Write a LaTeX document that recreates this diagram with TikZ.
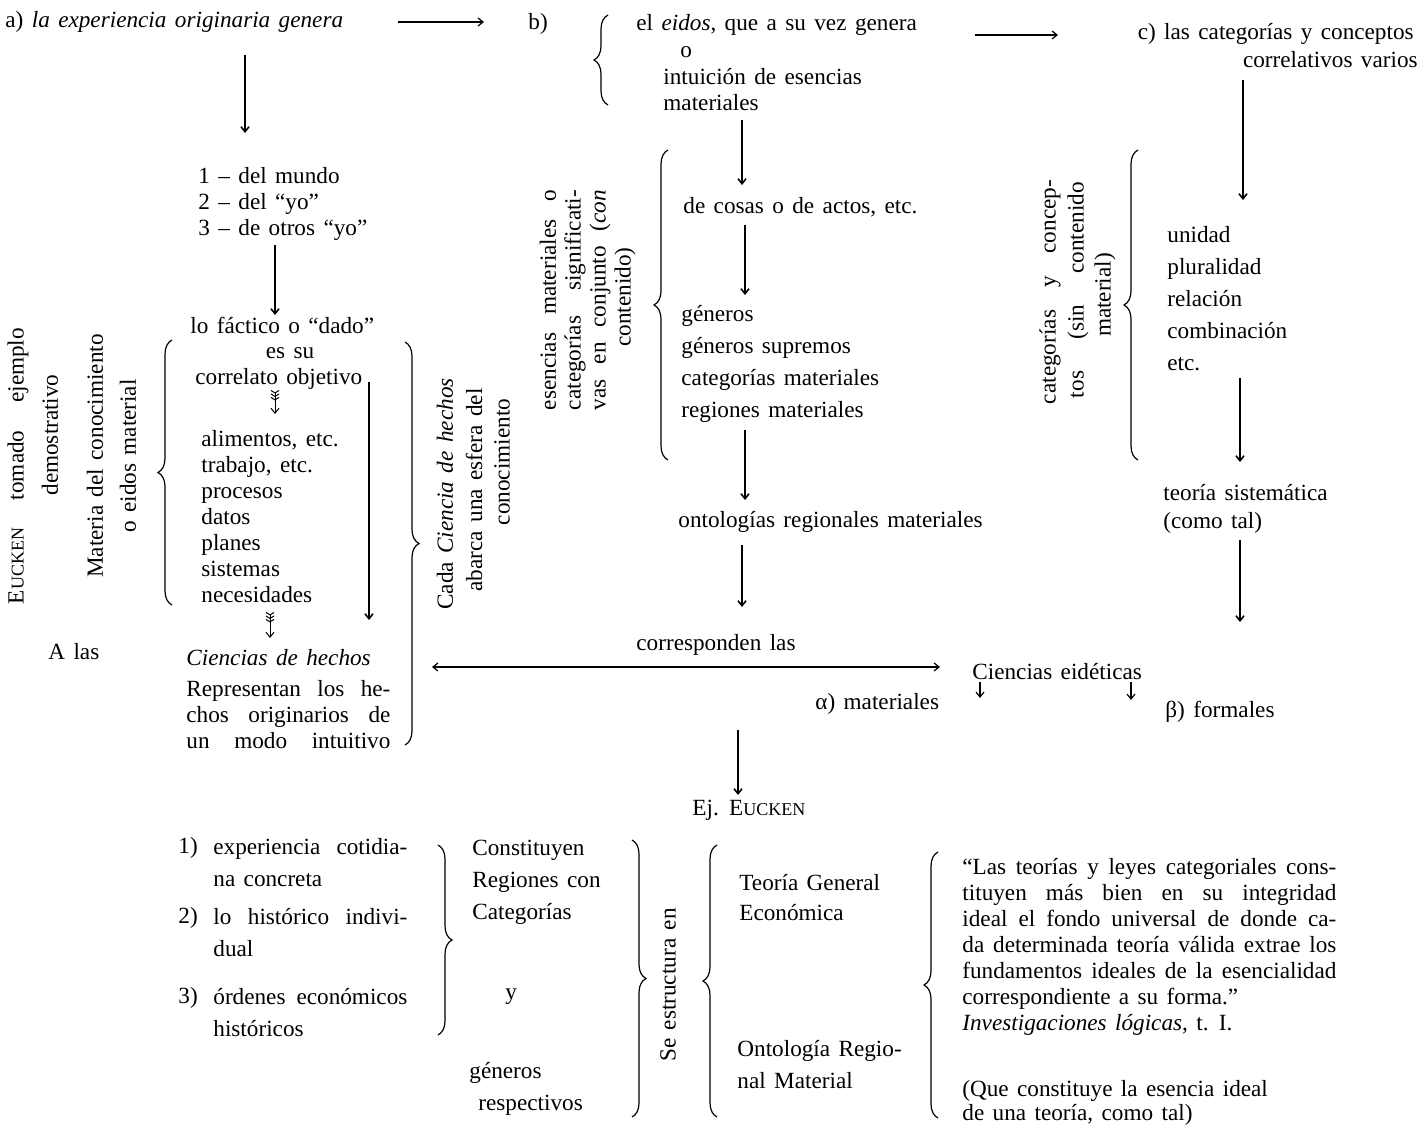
\documentclass[tikz,border=0pt]{standalone}
\usepackage{fontspec}
\setmainfont{Liberation Serif}[WordSpace=1.45]
\usetikzlibrary{arrows.meta,decorations.pathreplacing}
\newcommand{\Eucken}{E{\fontsize{9}{9}\selectfont UCKEN}}
\newcommand{\jl}[2]{\makebox[#1][s]{#2}}
\begin{document}
\begin{tikzpicture}[x=0.5pt,y=-0.5pt,
  txt/.style={inner sep=0pt,anchor=west,font=\fontsize{11.6}{13}\selectfont},
  blk/.style={inner sep=0pt,anchor=north west,align=left,font=\fontsize{11.6}{13}\selectfont},
  lst/.style={blk,font=\fontsize{11.6}{16}\selectfont},
  vtxt/.style={inner sep=0pt,rotate=90,font=\fontsize{11.6}{13}\selectfont},
  arr/.style={line width=0.8pt,-{Straight Barb[length=2.5pt,width=4pt]}},
  harr/.style={line width=0.6pt,-{Straight Barb[length=2.5pt,width=4pt]}},
  dharr/.style={line width=0.6pt,{Straight Barb[length=2.5pt,width=4pt]}-{Straight Barb[length=2.5pt,width=4pt]}},
  feath/.style={line width=0.5pt,{Straight Barb[reversed,length=1.2pt,width=4pt]Straight Barb[reversed,length=1.2pt,width=4pt]Straight Barb[reversed,length=1.2pt,width=4pt]}-{Straight Barb[length=2.5pt,width=4pt]}},
  brc/.style={line width=0.6pt,decorate,decoration={brace,amplitude=7pt}}]
  \useasboundingbox (0,0) rectangle (1422,1124);

  \node[txt] (a) at (5,22) {a) \textit{la experiencia originaria genera}};
  \coordinate (a-out) at (398,22);
  \coordinate (b-in) at (484,22);
  \draw[harr] (a-out) -- (b-in);
  \node[txt] (b) at (528,24) {b)};
  \draw[brc] (608,105) -- (608,15);
  \node[txt] (eidos) at (636,25) {el \textit{eidos}, que a su vez genera};
  \node[txt] (o) at (680,52) {o};
  \node[blk] (intu) at (663,68) {intuición de esencias\\materiales};
  \coordinate (b-out) at (975,35);
  \coordinate (c-in) at (1058,35);
  \draw[harr] (b-out) -- (c-in);
  \node[txt,anchor=east] (c) at (1414,34) {c) las categorías y conceptos};
  \node[txt,anchor=east] (c2) at (1418,60) {correlativos varios};

  \coordinate (a-dn) at (245,55);
  \coordinate (mundo-up) at (245,133);
  \draw[arr] (a-dn) -- (mundo-up);
  \node[blk] (mundo) at (198,167) {1 -- del mundo\\2 -- del “yo”\\3 -- de otros “yo”};
  \coordinate (mundo-dn) at (275,245);
  \coordinate (factico-up) at (275,315);
  \draw[arr] (mundo-dn) -- (factico-up);
  \node[txt] (factico) at (190,325) {lo fáctico o “dado”};
  \node[txt,anchor=center] (essu) at (290,353) {es su};
  \node[txt] (correl) at (195,379) {correlato objetivo};
  \coordinate (correl-dn) at (275,390);
  \coordinate (items-up) at (275,414);
  \draw[feath] (correl-dn) -- (items-up);
  \node[blk] (items) at (201,430) {alimentos, etc.\\trabajo, etc.\\procesos\\datos\\planes\\sistemas\\necesidades};
  \coordinate (items-dn) at (270,612);
  \coordinate (hechos-up) at (270,638);
  \draw[feath] (items-dn) -- (hechos-up);
  \node[txt] (hechos) at (186,658) {\textit{Ciencias de hechos}};
  \node[blk] (repr) at (186,680) {\jl{102pt}{Representan los he-}\\\jl{102pt}{chos originarios de}\\\jl{102pt}{un modo intuitivo}};
  \coordinate (correl-side) at (369,382);
  \coordinate (hechos-side) at (369,620);
  \draw[arr] (correl-side) -- (hechos-side);
  \draw[brc] (172,605) -- (172,340);
  \draw[brc] (405,342) -- (405,745);

  \node[vtxt] (eucken) at (18,466) {\jl{138pt}{\Eucken{} tomado ejemplo}};
  \node[vtxt] (demo) at (50,435) {demostrativo};
  \node[vtxt] (materia) at (95,456) {Materia del conocimiento};
  \node[vtxt] (eidosm) at (128,456) {o eidos material};
  \node[txt] (alas) at (48,652) {A las};
  \node[vtxt] (cada) at (445,494) {Cada \textit{Ciencia de hechos}};
  \node[vtxt] (abarca) at (474,490) {abarca una esfera del};
  \node[vtxt] (conoc) at (502,462) {conocimiento};

  \coordinate (intu-dn) at (742,120);
  \coordinate (cosas-up) at (742,185);
  \draw[arr] (intu-dn) -- (cosas-up);
  \draw[brc] (668,460) -- (668,150);
  \node[vtxt] (esen1) at (548,300) {\jl{110pt}{esencias materiales o}};
  \node[vtxt] (esen2) at (575,300) {\jl{110pt}{categorías significati-}};
  \node[vtxt] (esen3) at (600,300) {\jl{110pt}{vas en conjunto (\textit{con}}};
  \node[vtxt] (esen4) at (625,297) {contenido)};
  \node[txt] (cosas) at (683,207) {de cosas o de actos, etc.};
  \coordinate (cosas-dn) at (745,225);
  \coordinate (generos-up) at (745,295);
  \draw[arr] (cosas-dn) -- (generos-up);
  \node[lst] (generos) at (681,305) {géneros\\géneros supremos\\categorías materiales\\regiones materiales};
  \coordinate (generos-dn) at (745,430);
  \coordinate (onto-up) at (745,500);
  \draw[arr] (generos-dn) -- (onto-up);
  \node[txt] (onto) at (678,522) {ontologías regionales materiales};
  \coordinate (onto-dn) at (742,545);
  \coordinate (corresp-up) at (742,607);
  \draw[arr] (onto-dn) -- (corresp-up);
  \node[txt] (corresp) at (636,645) {corresponden las};
  \coordinate (hechos-r) at (432,667);
  \coordinate (eidet-l) at (940,667);
  \draw[dharr] (hechos-r) -- (eidet-l);
  \node[txt] (eidet) at (972,672) {Ciencias eidéticas};
  \coordinate (eidet-a) at (980,682);
  \coordinate (eidet-a2) at (980,698);
  \draw[harr] (eidet-a) -- (eidet-a2);
  \coordinate (eidet-b) at (1131,682);
  \coordinate (eidet-b2) at (1131,700);
  \draw[harr] (eidet-b) -- (eidet-b2);
  \node[txt] (alpha) at (815,704) {α) materiales};
  \node[txt] (beta) at (1165,712) {β) formales};
  \coordinate (alpha-dn) at (738,730);
  \coordinate (ej-up) at (738,795);
  \draw[arr] (alpha-dn) -- (ej-up);
  \node[txt] (ej) at (692,810) {Ej. \Eucken};

  \coordinate (c-dn) at (1243,80);
  \coordinate (unidad-up) at (1243,200);
  \draw[arr] (c-dn) -- (unidad-up);
  \draw[brc] (1138,460) -- (1138,150);
  \node[vtxt] (cat1) at (1050,292) {\jl{112pt}{categorías y concep-}};
  \node[vtxt] (cat2) at (1078,290) {\jl{108pt}{tos (sin contenido}};
  \node[vtxt] (cat3) at (1105,295) {material)};
  \node[lst] (unidad) at (1167,226) {unidad\\pluralidad\\relación\\combinación\\etc.};
  \coordinate (unidad-dn) at (1240,378);
  \coordinate (teoria-up) at (1240,462);
  \draw[arr] (unidad-dn) -- (teoria-up);
  \node[blk,font=\fontsize{11.6}{14}\selectfont] (teoria) at (1163,484) {teoría sistemática\\(como tal)};
  \coordinate (teoria-dn) at (1240,540);
  \coordinate (beta-up) at (1240,622);
  \draw[arr] (teoria-dn) -- (beta-up);

  \node[txt] (n1) at (178,848) {1)};
  \node[lst] (it1) at (213,838) {\jl{97pt}{experiencia cotidia-}\\na concreta};
  \node[txt] (n2) at (178,918) {2)};
  \node[lst] (it2) at (213,908) {\jl{97pt}{lo histórico indivi-}\\dual};
  \node[txt] (n3) at (178,998) {3)};
  \node[lst] (it3) at (213,988) {\jl{97pt}{órdenes económicos}\\históricos};
  \draw[brc] (438,845) -- (438,1035);
  \node[lst] (constit) at (472,840) {Constituyen\\Regiones con\\Categorías};
  \node[txt] (y) at (505,997) {y};
  \node[lst] (resp) at (469,1062) {géneros\\\hspace{4.5pt}respectivos};
  \draw[brc] (632,840) -- (632,1117);
  \node[vtxt] (seestr) at (668,985) {Se estructura en};
  \draw[brc] (717,1117) -- (717,845);
  \node[blk,font=\fontsize{11.6}{15}\selectfont] (tgen) at (739,874) {Teoría General\\Económica};
  \node[lst] (ontreg) at (737,1040) {Ontología Regio-\\nal Material};
  \draw[brc] (938,1118) -- (938,852);
  \node[blk] (quote) at (962,858) {\jl{187pt}{“Las teorías y leyes categoriales cons-}\\\jl{187pt}{tituyen más bien en su integridad}\\\jl{187pt}{ideal el fondo universal de donde ca-}\\\jl{187pt}{da determinada teoría válida extrae los}\\\jl{187pt}{fundamentos ideales de la esencialidad}\\correspondiente a su forma.”\\\textit{Investigaciones lógicas}, t. I.};
  \node[blk,font=\fontsize{11.6}{12}\selectfont] (esencia) at (962,1080) {(Que constituye la esencia ideal\\de una teoría, como tal)};
\end{tikzpicture}
\end{document}
